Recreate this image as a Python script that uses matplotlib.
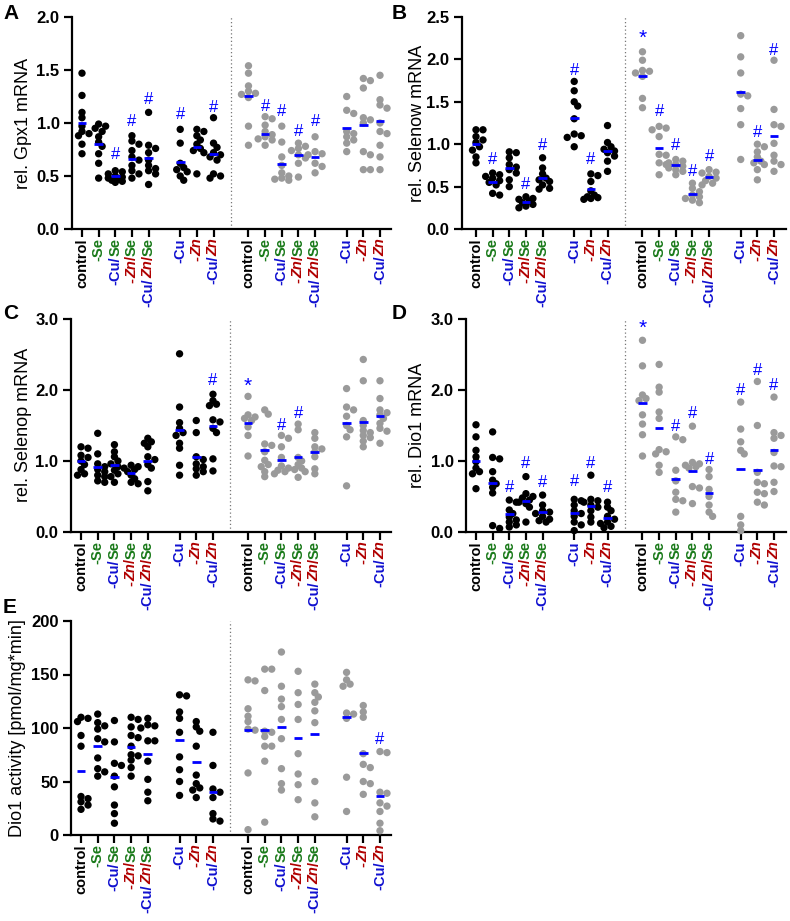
import numpy as np
import matplotlib
matplotlib.use('Agg')
import matplotlib.pyplot as plt

plt.rcParams['font.family'] = ['Liberation Sans', 'DejaVu Sans']

# group positions on the x axis (two blocks of 8 groups, separated by the dotted line)
xpos = [0, 1, 2, 3, 4, 5.9, 6.9, 7.9, 10, 11, 12, 13, 14, 15.9, 16.9, 17.9]
BLUE = '#1010d0'
GREEN = '#1a7a1a'
RED = '#b00000'
MEANBLUE = '#0000ff'

# tick label pieces (text, color, italic)
lab_control = [('control', 'black', False)]
lab_se = [('-Se', GREEN, False)]
lab_cuse = [('-Cu/', BLUE, False), ('Se', GREEN, False)]
lab_znse = [('-', RED, False), ('Zn', RED, True), ('/', RED, False), ('Se', GREEN, False)]
lab_cuznse = [('-Cu/', BLUE, False), ('Zn', RED, True), ('/', RED, False), ('Se', GREEN, False)]
lab_cu = [('-Cu', BLUE, False)]
lab_zn = [('-', RED, False), ('Zn', RED, True)]
lab_cuzn = [('-Cu/', BLUE, False), ('Zn', RED, True)]
group_labels = [lab_control, lab_se, lab_cuse, lab_znse, lab_cuznse, lab_cu, lab_zn, lab_cuzn] * 2

# ---- A: Gpx1 ----
gpx1_vals = [
    [1.47, 1.26, 1.10, 1.05, 0.97, 0.92, 0.90, 0.88, 0.80, 0.71],
    [0.99, 0.97, 0.95, 0.92, 0.87, 0.82, 0.78, 0.71, 0.62, 0.48],
    [0.55, 0.54, 0.52, 0.50, 0.49, 0.48, 0.47, 0.46, 0.45, 0.44],
    [0.88, 0.83, 0.80, 0.74, 0.68, 0.65, 0.60, 0.55, 0.52, 0.48],
    [1.10, 0.79, 0.76, 0.72, 0.65, 0.60, 0.57, 0.55, 0.52, 0.42],
    [0.94, 0.81, 0.62, 0.58, 0.56, 0.54, 0.50, 0.46],
    [0.94, 0.92, 0.88, 0.84, 0.80, 0.76, 0.74, 0.72, 0.52],
    [1.05, 0.81, 0.77, 0.72, 0.70, 0.68, 0.65, 0.52, 0.50, 0.48],
    [1.54, 1.47, 1.35, 1.30, 1.28, 1.27, 1.24, 0.97, 0.79],
    [1.06, 1.04, 0.98, 0.92, 0.89, 0.87, 0.85, 0.84, 0.79],
    [0.97, 0.82, 0.68, 0.60, 0.53, 0.50, 0.48, 0.47, 0.46],
    [0.81, 0.78, 0.76, 0.74, 0.70, 0.67, 0.62, 0.49],
    [0.87, 0.73, 0.71, 0.70, 0.62, 0.59, 0.53],
    [1.25, 1.12, 1.09, 0.92, 0.90, 0.87, 0.84, 0.81, 0.73],
    [1.42, 1.40, 1.33, 1.05, 1.03, 1.00, 0.73, 0.70, 0.56, 0.56],
    [1.45, 1.22, 1.17, 1.14, 1.00, 0.92, 0.90, 0.79, 0.68, 0.56],
]
gpx1_means = [1.00, 0.80, 0.50, 0.66, 0.67, 0.63, 0.77, 0.71, 1.25, 0.90, 0.61, 0.70, 0.68, 0.95, 0.98, 1.02]
gpx1_marks = [(2, '#', 0.70), (3, '#', 1.01), (4, '#', 1.22), (5, '#', 1.08), (7, '#', 1.15),
              (9, '#', 1.16), (10, '#', 1.11), (11, '#', 0.92), (12, '#', 1.01)]

# ---- B: Selenow ----
selenow_vals = [
    [1.17, 1.17, 1.09, 1.05, 1.02, 0.97, 0.93, 0.85, 0.78],
    [0.66, 0.64, 0.62, 0.60, 0.57, 0.55, 0.52, 0.42, 0.40],
    [0.91, 0.90, 0.84, 0.76, 0.73, 0.70, 0.66, 0.58, 0.50],
    [0.38, 0.36, 0.35, 0.33, 0.31, 0.29, 0.27, 0.25],
    [0.84, 0.72, 0.65, 0.60, 0.58, 0.56, 0.52, 0.48, 0.47],
    [1.74, 1.63, 1.50, 1.45, 1.30, 1.12, 1.10, 1.08, 0.97],
    [0.65, 0.63, 0.56, 0.45, 0.40, 0.38, 0.37, 0.36, 0.35],
    [1.22, 1.02, 0.97, 0.94, 0.92, 0.90, 0.86, 0.80, 0.68],
    [2.09, 1.99, 1.87, 1.86, 1.84, 1.80, 1.54, 1.43],
    [1.21, 1.19, 1.17, 1.09, 0.88, 0.87, 0.78, 0.76, 0.64],
    [0.82, 0.80, 0.78, 0.76, 0.74, 0.72, 0.70, 0.68, 0.64],
    [0.54, 0.48, 0.44, 0.40, 0.38, 0.36, 0.34, 0.31],
    [0.70, 0.67, 0.66, 0.62, 0.60, 0.57, 0.54, 0.52],
    [2.28, 2.03, 1.84, 1.59, 1.57, 1.42, 1.23, 0.82],
    [1.00, 0.97, 0.91, 0.85, 0.80, 0.78, 0.76, 0.70, 0.58],
    [1.99, 1.41, 1.23, 1.21, 1.01, 0.87, 0.80, 0.76, 0.68],
]
selenow_means = [1.00, 0.55, 0.72, 0.32, 0.60, 1.31, 0.47, 0.92, 1.81, 0.95, 0.76, 0.41, 0.61, 1.61, 0.81, 1.10]
selenow_marks = [(1, '#', 0.82), (3, '#', 0.52), (4, '#', 0.99), (5, '#', 1.87), (6, '#', 0.82),
                 (8, '*', 2.25), (9, '#', 1.38), (10, '#', 0.99), (11, '#', 0.68), (12, '#', 0.85),
                 (14, '#', 1.14), (15, '#', 2.11)]

# ---- C: Selenop ----
selenop_vals = [
    [1.20, 1.18, 1.08, 1.05, 1.00, 0.95, 0.88, 0.82, 0.80],
    [1.39, 1.10, 0.96, 0.92, 0.88, 0.85, 0.80, 0.78, 0.72, 0.70],
    [1.23, 1.13, 1.06, 1.00, 0.96, 0.92, 0.87, 0.82, 0.78, 0.70],
    [0.94, 0.92, 0.90, 0.88, 0.85, 0.80, 0.75, 0.70, 0.68],
    [1.32, 1.27, 1.25, 1.20, 1.06, 1.02, 0.95, 0.90, 0.71, 0.58],
    [2.51, 1.76, 1.54, 1.46, 1.40, 1.36, 1.25, 1.18, 0.94, 0.80],
    [1.57, 1.40, 1.06, 1.02, 0.96, 0.92, 0.89, 0.85, 0.80],
    [1.94, 1.85, 1.80, 1.78, 1.58, 1.55, 1.46, 1.40, 1.03, 0.86],
    [1.91, 1.65, 1.62, 1.60, 1.57, 1.48, 1.36, 1.07],
    [1.72, 1.66, 1.24, 1.22, 1.13, 1.01, 0.95, 0.92, 0.85, 0.78],
    [1.36, 1.32, 1.20, 1.05, 0.93, 0.90, 0.87, 0.85, 0.82],
    [1.52, 1.44, 1.05, 1.00, 0.95, 0.90, 0.88, 0.85, 0.77],
    [1.40, 1.32, 1.20, 1.17, 1.13, 1.06, 0.89, 0.82],
    [2.02, 1.76, 1.72, 1.63, 1.50, 1.44, 1.34, 0.65],
    [2.43, 2.13, 1.57, 1.50, 1.43, 1.40, 1.36, 1.33, 1.28, 1.20],
    [2.13, 1.88, 1.72, 1.68, 1.65, 1.60, 1.53, 1.46, 1.42, 1.25],
]
selenop_means = [1.00, 0.92, 0.94, 0.83, 1.00, 1.43, 1.06, 1.49, 1.54, 1.16, 1.01, 1.06, 1.13, 1.53, 1.55, 1.63]
selenop_marks = [(7, '#', 2.13), (8, '*', 2.05), (10, '#', 1.50), (11, '#', 1.67)]

# ---- D: Dio1 mRNA ----
dio1_vals = [
    [1.51, 1.34, 1.15, 1.06, 0.99, 0.90, 0.85, 0.82, 0.61],
    [1.41, 1.05, 1.03, 0.85, 0.73, 0.68, 0.63, 0.55, 0.09, 0.05],
    [0.45, 0.42, 0.31, 0.26, 0.21, 0.17, 0.14, 0.10, 0.07],
    [0.78, 0.54, 0.50, 0.48, 0.45, 0.42, 0.40, 0.35, 0.14],
    [0.52, 0.38, 0.30, 0.28, 0.26, 0.22, 0.18, 0.16, 0.14],
    [0.46, 0.44, 0.38, 0.30, 0.26, 0.22, 0.14, 0.10, 0.02],
    [0.80, 0.46, 0.44, 0.42, 0.38, 0.35, 0.30, 0.21, 0.14],
    [0.42, 0.35, 0.30, 0.22, 0.18, 0.14, 0.12, 0.08, 0.06],
    [2.70, 2.34, 1.93, 1.88, 1.85, 1.65, 1.52, 1.37, 1.07],
    [2.36, 2.04, 1.97, 1.69, 1.60, 1.16, 1.13, 1.10, 0.94, 0.84],
    [1.34, 1.30, 0.87, 0.72, 0.56, 0.46, 0.44, 0.28],
    [1.49, 0.98, 0.96, 0.94, 0.92, 0.90, 0.64, 0.62, 0.40],
    [0.88, 0.78, 0.60, 0.50, 0.38, 0.28, 0.22],
    [1.83, 1.45, 1.27, 1.15, 1.10, 0.22, 0.10, 0.02],
    [2.12, 1.50, 0.84, 0.70, 0.68, 0.56, 0.54, 0.42, 0.38],
    [1.90, 1.40, 1.36, 1.32, 1.12, 0.93, 0.92, 0.70, 0.57],
]
dio1_means = [1.00, 0.69, 0.25, 0.43, 0.28, 0.27, 0.37, 0.20, 1.81, 1.47, 0.74, 0.86, 0.55, 0.89, 0.87, 1.16]
dio1_marks = [(2, '#', 0.63), (3, '#', 0.96), (4, '#', 0.70), (5, '#', 0.71), (6, '#', 0.96),
              (7, '#', 0.63), (8, '*', 2.87), (10, '#', 1.48), (11, '#', 1.67), (12, '#', 1.02),
              (13, '#', 2.00), (14, '#', 2.28), (15, '#', 2.07)]

# ---- E: Dio1 activity ----
act_vals = [
    [110, 109, 106, 93, 83, 36, 34, 31, 28, 24],
    [113, 105, 102, 99, 90, 87, 72, 62, 59, 55],
    [107, 87, 67, 65, 55, 45, 28, 20, 11],
    [110, 108, 101, 93, 91, 83, 75, 74, 70, 63, 55],
    [109, 103, 102, 100, 88, 88, 69, 52, 40, 32],
    [131, 130, 115, 109, 96, 73, 61, 50, 37],
    [106, 101, 97, 83, 56, 48, 44, 42, 35],
    [96, 65, 43, 40, 35, 20, 15, 13],
    [145, 144, 118, 111, 106, 99, 98, 58, 5],
    [155, 155, 135, 97, 96, 92, 83, 83, 69, 12],
    [171, 139, 127, 120, 108, 90, 62, 48, 42],
    [153, 133, 122, 108, 76, 57, 47, 33],
    [141, 133, 129, 124, 116, 105, 50, 30, 17],
    [152, 145, 141, 139, 114, 113, 109, 54, 22],
    [121, 115, 110, 76, 66, 63, 50, 48, 38],
    [78, 77, 40, 39, 30, 27, 22, 11, 4],
]
act_means = [60, 83, 54, 82, 76, 89, 68, 40, 98, 98, 101, 91, 94, 110, 77, 36]
act_marks = [(15, '#', 89)]

W, H = 790, 921
fig = plt.figure(figsize=(W / 100, H / 100), dpi=100)


def px_axes(x0, x1, ytop, ybot):
    return fig.add_axes([x0 / W, 1 - ybot / H, (x1 - x0) / W, (ybot - ytop) / H])


def swarm(ax, xc, vals, dot_px, max_off=8.0):
    # simple beeswarm in pixel space; points may overlap a bit, spread is capped
    pts = ax.transData.transform(np.column_stack([np.full(len(vals), xc), vals]))
    order = np.argsort(-pts[:, 1])
    placed = []
    xs = np.zeros(len(vals))
    step = dot_px * 0.5
    nsteps = int(max_off / step)
    for i in order:
        px, py = pts[i]
        cands = [0.0]
        for k in range(1, nsteps + 1):
            cands += [k * step, -k * step]
        best, best_d = px, -1
        for s in cands:
            cx = px + s
            d = min([np.hypot(cx - qx, py - qy) for qx, qy in placed] + [99])
            if d >= dot_px * 0.7:
                best = cx
                break
            if d > best_d:
                best, best_d = cx, d
        placed.append((best, py))
        xs[i] = best
    back = ax.transData.inverted().transform(np.column_stack([xs, pts[:, 1]]))
    return back[:, 0]


def colored_label(ax, x, parts):
    prev = None
    for text, color, ital in reversed(parts):
        kw = dict(rotation=90, ha='center', va='top', color=color, fontsize=10.5,
                  fontweight='bold', style='italic' if ital else 'normal', annotation_clip=False)
        if prev is None:
            prev = ax.annotate(text, xy=(x, 0), xycoords=('data', 'axes fraction'),
                               xytext=(0, -6.5), textcoords='offset points', **kw)
        else:
            prev = ax.annotate(text, xy=(0.5, 0), xycoords=prev,
                               xytext=(0, 0), textcoords='offset points', **kw)


def panel(ax, vals, means, marks, ymax, ystep, fmt, xlim):
    ax.set_xlim(*xlim)
    ax.set_ylim(0, ymax)
    for s in ['top', 'right']:
        ax.spines[s].set_visible(False)
    for s in ['left', 'bottom']:
        ax.spines[s].set_linewidth(1.6)
    ticks = np.arange(0, ymax + ystep / 2, ystep)
    ax.set_yticks(ticks)
    ax.set_yticklabels([fmt.format(v) for v in ticks], fontsize=12, fontweight='bold')
    ax.tick_params(axis='y', length=6, width=1.6, pad=3)
    ax.set_xticks(xpos)
    ax.set_xticklabels([])
    ax.tick_params(axis='x', length=6, width=1.6)
    ax.axvline((xpos[7] + xpos[8]) / 2, color='#777777', lw=0.9, ls=(0, (1, 2)))
    for i, (xc, v) in enumerate(zip(xpos, vals)):
        col = 'black' if i < 8 else '#9a9a9a'
        xs = swarm(ax, xc, v, 7.0)
        ax.scatter(xs, v, s=28, color=col, edgecolors='none', zorder=3, clip_on=False)
        ax.hlines(means[i], xc - 0.26, xc + 0.26, color=MEANBLUE, lw=2, zorder=4)
    for gi, sym, yv in marks:
        ax.text(xpos[gi], yv, sym, color=MEANBLUE, ha='center', va='center',
                fontsize=15 if sym == '*' else 12)
    for xc, parts in zip(xpos, group_labels):
        colored_label(ax, xc, parts)


axA = px_axes(72, 391, 17, 229)
panel(axA, gpx1_vals, gpx1_means, gpx1_marks, 2.0, 0.5, '{:.1f}', (-0.6, 18.56))
axB = px_axes(462, 786, 17, 229)
panel(axB, selenow_vals, selenow_means, selenow_marks, 2.5, 0.5, '{:.1f}', (-0.84, 18.62))
axC = px_axes(71, 391, 319, 532)
panel(axC, selenop_vals, selenop_means, selenop_marks, 3.0, 1.0, '{:.1f}', (-0.6, 18.56))
axD = px_axes(466, 786, 319, 532)
panel(axD, dio1_vals, dio1_means, dio1_marks, 3.0, 1.0, '{:.1f}', (-0.6, 18.62))
axE = px_axes(71, 391, 621, 835)
panel(axE, act_vals, act_means, act_marks, 200, 50, '{:.0f}', (-0.6, 18.56))

# y labels
ylabs = [(23.5, 123, 'rel. Gpx1 mRNA'), (417.5, 123, 'rel. Selenow mRNA'),
         (24, 425, 'rel. Selenop mRNA'), (417.5, 425, 'rel. Dio1 mRNA'),
         (18, 728, 'Dio1 activity [pmol/mg*min]')]
for xp, yp, t in ylabs:
    fig.text(xp / W, 1 - yp / H, t, rotation=90, ha='center', va='center', fontsize=13)

# panel letters
for xp, yp, t in [(3, 4, 'A'), (392, 4, 'B'), (3, 304, 'C'), (392, 304, 'D'), (3, 598, 'E')]:
    fig.text(xp / W, 1 - yp / H, t, ha='left', va='top', fontsize=15, fontweight='bold')

fig.savefig('out.png', dpi=100)
